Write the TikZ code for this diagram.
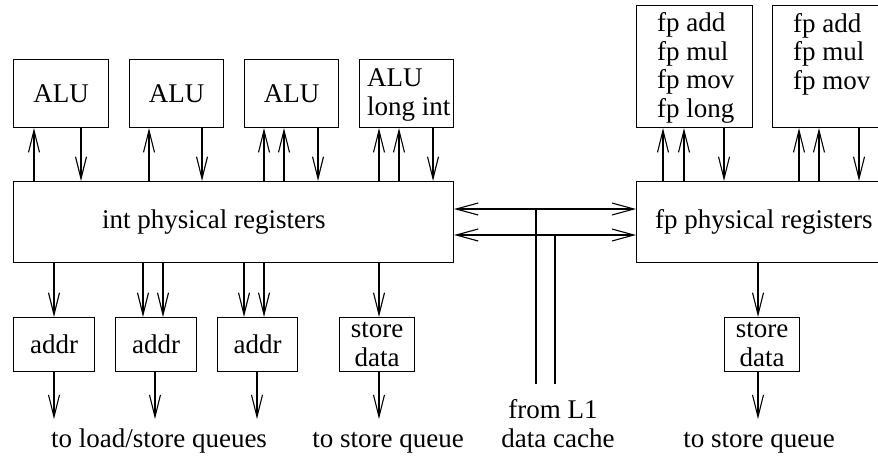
\documentclass[tikz,border=0pt]{standalone}
\usepackage{fontspec}
\setmainfont{Liberation Serif}
\usepackage{tikz}
\usetikzlibrary{arrows.meta,calc,positioning}

\begin{document}
\begin{tikzpicture}[x=1pt,y=1pt,yscale=-1,xscale=1,
  font=\fontsize{27}{28.5}\selectfont,
  every node/.style={inner sep=0pt},
  unit/.style={draw,line width=1.1pt,anchor=north west,minimum height=68pt,align=center},
  arr/.style={line width=1.1pt,-{Straight Barb[length=22pt,width=11pt]}},
  biarr/.style={line width=1.1pt,{Straight Barb[length=22pt,width=12pt]}-{Straight Barb[length=22pt,width=12pt]}},
  wire/.style={line width=1.1pt}]
\useasboundingbox (0,0) rectangle (878,459);
\clip (0,0) rectangle (878,459);

%Shape: Rectangle [int units]
\node[unit,minimum width=95pt] (alu1) at (13,59) {ALU};
\node[unit,minimum width=94pt] (alu2) at (129,59) {ALU};
\node[unit,minimum width=94pt] (alu3) at (244,59) {ALU};
\node[unit,minimum width=94pt] (alu4) at (359,59) {};
%Shape: Rectangle [fp units]
\node[unit,minimum width=116pt,minimum height=122pt] (fpu1) at (636,5) {};
\node[unit,minimum width=116pt,minimum height=122pt] (fpu2) at (772,5) {};
%Shape: Rectangle [register files]
\node[unit,minimum width=440pt,minimum height=81pt] (regs) at (13,181) {};
\node[unit,minimum width=440pt,minimum height=81pt] (fpregs) at (636,181) {};
%Shape: Rectangle [address and store units]
\node[unit,minimum width=81pt,minimum height=54pt] (addr1) at (13,317) {addr};
\node[unit,minimum width=81pt,minimum height=54pt] (addr2) at (115,317) {addr};
\node[unit,minimum width=80pt,minimum height=54pt] (addr3) at (217,317) {addr};
\node[unit,minimum width=75pt,minimum height=54pt] (stor) at (339,317) {store\\data};
\node[unit,minimum width=75pt,minimum height=54pt] (fpstor) at (724,317) {store\\data};

%Straight Lines [regs to units]
\foreach \x/\b in {34/alu1,149/alu2,264/alu3,284/alu3,379/alu4,399/alu4,663/fpu1,684/fpu1,799/fpu2,819/fpu2}
  \draw[arr] (\x,0 |- regs.north) -- (\x,0 |- \b.south);
%Straight Lines [units to regs]
\foreach \x/\b in {81/alu1,202/alu2,318/alu3,433/alu4}
  \draw[arr] (\x,0 |- \b.south) -- (\x,0 |- regs.north);
\foreach \x/\b in {724/fpu1,859/fpu2}
  \draw[arr] (\x,0 |- \b.south) -- (\x,0 |- fpregs.north);
%Straight Lines [regs to addr / store]
\foreach \x/\b in {54/addr1,143/addr2,163/addr2,244/addr3,264/addr3,379/stor}
  \draw[arr] (\x,0 |- regs.south) -- (\x,0 |- \b.north);
\draw[arr] (758,0 |- fpregs.south) -- (758,0 |- fpstor.north);
%Straight Lines [outputs]
\foreach \x/\b in {54/addr1,155/addr2,257/addr3,379/stor,758/fpstor}
  \draw[arr] (\x,0 |- \b.south) -- ++(0,47);
%Straight Lines [cache buses]
\draw[biarr] (regs.east |- 0,209) -- (fpregs.west |- 0,209);
\draw[biarr] (regs.east |- 0,235) -- (fpregs.west |- 0,235);
\coordinate (tapA) at (536,384);
\coordinate (tapB) at (555,384);
\draw[wire] (tapA) -- (tapA |- 0,209);
\draw[wire] (tapB) -- (tapB |- 0,235);

% Text Node (base = last line)
\node[anchor=base west,align=left] (alu4txt) at (367,115) {ALU\\long int};
% Text Node
\node[anchor=base west,align=left] (fpu1txt) at (657,117) {fp add\\fp mul\\fp mov\\fp long};
% Text Node
\node[anchor=base west,align=left] (fpu2txt) at (793,89) {fp add\\fp mul\\fp mov};
% Text Node
\node[anchor=base west] (regstxt) at (102,228) {int physical registers};
% Text Node
\node[anchor=base west] (fpregstxt) at (655,228) {fp physical registers};
% Text Node
\node[anchor=base] (ldst) at (159,447) {to load/store queues};
% Text Node
\node[anchor=base] (stq) at (388,447) {to store queue};
% Text Node
\node[anchor=base] (froml1) at (553,418) {from L1};
% Text Node
\node[anchor=base] (dcache) at (558,447) {data cache};
% Text Node
\node[anchor=base] (fpstq) at (759,447) {to store queue};

\end{tikzpicture}
\end{document}
